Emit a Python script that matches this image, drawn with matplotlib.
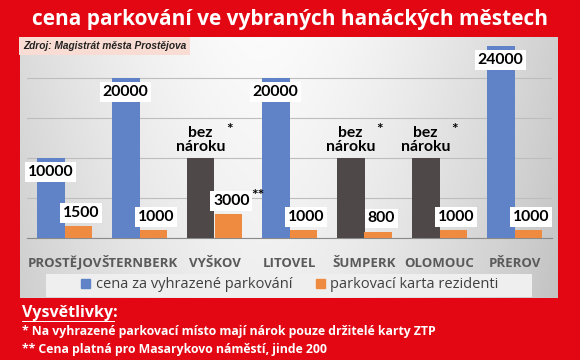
import numpy as np
import matplotlib.pyplot as plt
from matplotlib.patches import Rectangle, Patch

# data
cities = ['PROSTĚJOV', 'ŠTERNBERK', 'VYŠKOV', 'LITOVEL', 'ŠUMPERK', 'OLOMOUC', 'PŘEROV']
reserved = [10000, 20000, 10000, 20000, 10000, 10000, 24000]
no_claim = [False, False, True, False, True, True, False]
resident = [1500, 1000, 3000, 1000, 800, 1000, 1000]
resident_note = ['', '', '**', '', '', '', '']
series_names = ['cena za vyhrazené parkování', 'parkovací karta rezidenti']

RED = '#E30613'
BLUE = '#5F83C6'
ORANGE = '#EE8B40'
DARK = '#4E4948'

W, H = 580, 360
fig = plt.figure(figsize=(W / 100, H / 100), dpi=100, facecolor=RED)


def fx(px):
    return px / W


def fy(py):
    return 1 - py / H


# gray gradient panel
panel = fig.add_axes([fx(20), fy(298), fx(538), (298 - 37) / H], zorder=0)
xx, yy = np.meshgrid(np.linspace(0, 1, 200), np.linspace(0, 1, 100))
shade = 0.985 - 0.17 * np.abs(xx - 0.45) ** 1.6 / 0.55 ** 1.6 - 0.05 * yy
panel.imshow(np.dstack([shade] * 3), aspect='auto', extent=(0, 1, 0, 1))
panel.set_axis_off()

# main axes
ax = fig.add_axes([fx(27), fy(238), fx(525), 200 / H], zorder=2)
ax.patch.set_alpha(0)
x = np.arange(len(cities))
bw = 0.373
blue_colors = [DARK if nc else BLUE for nc in no_claim]
ax.bar(x - bw / 2, reserved, bw, color=blue_colors, zorder=3)
ax.bar(x + bw / 2, resident, bw, color=ORANGE, zorder=3)
ax.set_xlim(-0.5, len(cities) - 0.5)
ax.set_ylim(0, 25000)
ax.set_yticks([0, 5000, 10000, 15000, 20000])
ax.yaxis.grid(True, color='#BDBDBD', lw=0.8, zorder=1)
ax.tick_params(axis='y', left=False, labelleft=False)
ax.tick_params(axis='x', bottom=False, pad=10)
for s in ['top', 'right', 'left']:
    ax.spines[s].set_visible(False)
ax.spines['bottom'].set_color('#8A8A8A')
ax.set_xticks(x)
ax.set_xticklabels(cities, fontsize=9.5, color='#5A5A5A', family='Open Sans',
                   fontweight='bold')

lab_font = dict(family='Lato', fontweight='bold', fontsize=11.3, color='black')
box = dict(boxstyle='square,pad=0.18', fc='white', ec='none')
for i in range(len(cities)):
    if no_claim[i]:
        ax.annotate('bez\nnároku', (x[i] - bw / 2, reserved[i]), xytext=(0, 13),
                    textcoords='offset points', ha='center', va='center',
                    linespacing=0.95, zorder=5, **lab_font)
        ax.annotate('*', (x[i] - bw / 2, reserved[i]), xytext=(21, 20),
                    textcoords='offset points', ha='center', va='center',
                    zorder=5, **lab_font)
    else:
        ax.annotate(f'{reserved[i]}', (x[i] - bw / 2, reserved[i]), xytext=(0, -10),
                    textcoords='offset points', ha='center', va='center',
                    bbox=box, zorder=5, **lab_font)
    ax.annotate(f'{resident[i]}', (x[i] + bw / 2, resident[i]), xytext=(2, 9.5),
                textcoords='offset points', ha='center', va='center',
                bbox=box, zorder=5, **lab_font)
    if resident_note[i]:
        ax.annotate(resident_note[i], (x[i] + bw / 2, resident[i]), xytext=(21, 13),
                    textcoords='offset points', ha='center', va='center',
                    zorder=6, **lab_font)

# legend
fig.patches.append(Rectangle((fx(46), fy(297)), fx(486), 23 / H, transform=fig.transFigure,
                             fc='#EFEFEF', ec='none', zorder=1))
handles = [Patch(color=BLUE), Patch(color=ORANGE)]
fig.legend(handles, series_names, loc='center', bbox_to_anchor=(fx(290), fy(285)),
           ncol=2, frameon=False, handlelength=0.6, handleheight=0.6, handletextpad=0.4,
           columnspacing=1.6, prop=dict(family='Open Sans', size=10.5),
           labelcolor='#404040')

# source box
fig.text(fx(23), fy(46), 'Zdroj: Magistrát města Prostějova', ha='left', va='center',
         fontsize=7.3, fontstyle='italic', fontweight='bold', color='#222222',
         family=['Liberation Sans Narrow', 'Liberation Sans'], zorder=4,
         bbox=dict(boxstyle='square,pad=0.35', fc='#F9DCD3', ec='none'))

# title
fig.text(0.5, fy(20), 'cena parkování ve vybraných hanáckých městech', ha='center',
         va='center', fontsize=15, fontweight='bold', color='white', family='Open Sans')

# notes
fig.text(fx(22), fy(313), 'Vysvětlivky:', ha='left', va='center', fontsize=11.5,
         fontweight='bold', color='white', family='Open Sans')
fig.patches.append(Rectangle((fx(22), fy(322)), fx(93), 1.2 / H, transform=fig.transFigure,
                             fc='white', ec='none'))
fig.text(fx(22), fy(332), '* Na vyhrazené parkovací místo mají nárok pouze držitelé karty ZTP',
         ha='left', va='center', fontsize=8.8, fontweight='bold', color='white',
         family='Open Sans')
fig.text(fx(22), fy(350), '** Cena platná pro Masarykovo náměstí, jinde 200',
         ha='left', va='center', fontsize=8.8, fontweight='bold', color='white',
         family='Open Sans')

fig.savefig('out.png', dpi=100, facecolor=RED)
